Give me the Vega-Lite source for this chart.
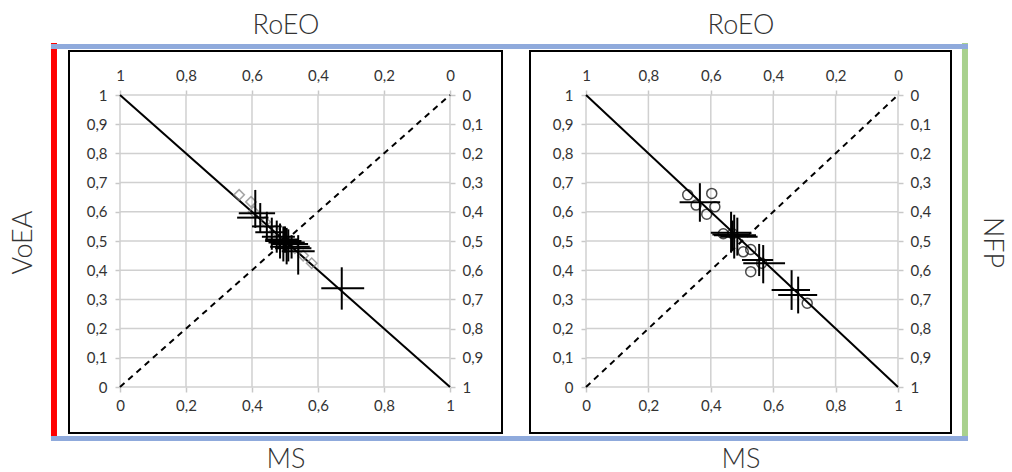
{
  "$schema": "https://vega.github.io/schema/vega-lite/v6.json",
  "autosize": {"type": "none"},
  "padding": {"left": 69, "top": 51, "right": 943, "bottom": 421},
  "background": "white",
  "spacing": 28,
  "bounds": "flush",
  "config": {
    "view": {"stroke": "#000000", "strokeWidth": 2},
    "axis": {
      "domain": false, "grid": false,
      "tickColor": "#c8c8c8", "tickSize": 5, "tickWidth": 1.5,
      "labelFont": "Lato", "labelFontSize": 15, "labelColor": "#333333",
      "titleFont": "Lato", "titleFontSize": 27, "titleFontWeight": 300, "titleColor": "#333333"
    }
  },
  "datasets": {
    "one": [{"k": 1}],
    "gridX": [{"v": 0}, {"v": 0.2}, {"v": 0.4}, {"v": 0.6}, {"v": 0.8}, {"v": 1}],
    "gridY": [{"v": 0}, {"v": 0.1}, {"v": 0.2}, {"v": 0.3}, {"v": 0.4}, {"v": 0.5}, {"v": 0.6}, {"v": 0.7}, {"v": 0.8}, {"v": 0.9}, {"v": 1}],
    "leftCross": [
      {"x": 0.41, "y": 0.595, "xlo": 0.36, "xhi": 0.47, "ylo": 0.545, "yhi": 0.675},
      {"x": 0.425, "y": 0.58, "xlo": 0.355, "xhi": 0.45, "ylo": 0.53, "yhi": 0.63},
      {"x": 0.445, "y": 0.55, "xlo": 0.40, "xhi": 0.49, "ylo": 0.50, "yhi": 0.60},
      {"x": 0.46, "y": 0.53, "xlo": 0.41, "xhi": 0.50, "ylo": 0.47, "yhi": 0.58},
      {"x": 0.475, "y": 0.515, "xlo": 0.43, "xhi": 0.53, "ylo": 0.46, "yhi": 0.57},
      {"x": 0.485, "y": 0.505, "xlo": 0.44, "xhi": 0.54, "ylo": 0.44, "yhi": 0.56},
      {"x": 0.495, "y": 0.495, "xlo": 0.45, "xhi": 0.56, "ylo": 0.43, "yhi": 0.55},
      {"x": 0.505, "y": 0.49, "xlo": 0.46, "xhi": 0.57, "ylo": 0.42, "yhi": 0.545},
      {"x": 0.51, "y": 0.48, "xlo": 0.455, "xhi": 0.575, "ylo": 0.43, "yhi": 0.54},
      {"x": 0.52, "y": 0.475, "xlo": 0.47, "xhi": 0.58, "ylo": 0.44, "yhi": 0.52},
      {"x": 0.54, "y": 0.465, "xlo": 0.49, "xhi": 0.59, "ylo": 0.385, "yhi": 0.52},
      {"x": 0.50, "y": 0.50, "xlo": 0.44, "xhi": 0.55, "ylo": 0.46, "yhi": 0.55},
      {"x": 0.672, "y": 0.338, "xlo": 0.61, "xhi": 0.74, "ylo": 0.265, "yhi": 0.41}
    ],
    "leftDiamond": [
      {"x": 0.361, "y": 0.658}, {"x": 0.397, "y": 0.634}, {"x": 0.405, "y": 0.60},
      {"x": 0.44, "y": 0.565}, {"x": 0.47, "y": 0.535}, {"x": 0.50, "y": 0.505},
      {"x": 0.53, "y": 0.475}, {"x": 0.555, "y": 0.45}, {"x": 0.581, "y": 0.424}
    ],
    "rightCross": [
      {"x": 0.365, "y": 0.633, "xlo": 0.30, "xhi": 0.43, "ylo": 0.566, "yhi": 0.698},
      {"x": 0.465, "y": 0.528, "xlo": 0.40, "xhi": 0.53, "ylo": 0.46, "yhi": 0.60},
      {"x": 0.475, "y": 0.52, "xlo": 0.41, "xhi": 0.545, "ylo": 0.44, "yhi": 0.59},
      {"x": 0.485, "y": 0.515, "xlo": 0.43, "xhi": 0.55, "ylo": 0.45, "yhi": 0.58},
      {"x": 0.47, "y": 0.522, "xlo": 0.405, "xhi": 0.52, "ylo": 0.47, "yhi": 0.57},
      {"x": 0.555, "y": 0.435, "xlo": 0.50, "xhi": 0.60, "ylo": 0.38, "yhi": 0.49},
      {"x": 0.568, "y": 0.424, "xlo": 0.504, "xhi": 0.638, "ylo": 0.355, "yhi": 0.486},
      {"x": 0.659, "y": 0.332, "xlo": 0.595, "xhi": 0.718, "ylo": 0.264, "yhi": 0.40},
      {"x": 0.68, "y": 0.315, "xlo": 0.616, "xhi": 0.741, "ylo": 0.252, "yhi": 0.378}
    ],
    "rightCircle": [
      {"x": 0.326, "y": 0.658}, {"x": 0.403, "y": 0.663}, {"x": 0.353, "y": 0.623},
      {"x": 0.413, "y": 0.617}, {"x": 0.387, "y": 0.592}, {"x": 0.44, "y": 0.525},
      {"x": 0.47, "y": 0.525}, {"x": 0.504, "y": 0.463}, {"x": 0.528, "y": 0.471},
      {"x": 0.528, "y": 0.395}, {"x": 0.563, "y": 0.424}, {"x": 0.709, "y": 0.287}
    ]
  },
  "hconcat": [
    {
      "width": 433,
      "height": 382,
      "resolve": {"axis": {"x": "independent", "y": "independent"}},
      "layer": [
        {
          "data": {"name": "one"},
          "mark": {"type": "rule", "color": "#ff0000", "strokeWidth": 6},
          "encoding": {
            "x": {"datum": -0.2, "type": "quantitative", "scale": {"domain": [-0.1545, 1.1576], "nice": false, "zero": false}, "axis": null},
            "y": {"datum": 1.1781, "type": "quantitative", "scale": {"domain": [-0.1575, 1.1507], "nice": false, "zero": false}, "axis": null},
            "y2": {"datum": -0.1678}
          }
        },
        {
          "data": {"name": "one"},
          "mark": {"type": "rule", "color": "#8faadc", "strokeWidth": 5},
          "encoding": {
            "x": {"datum": -0.2091, "type": "quantitative", "scale": {"domain": [-0.1545, 1.1576], "nice": false, "zero": false}, "axis": null},
            "x2": {"datum": 1.2},
            "y": {"datum": 1.1661, "type": "quantitative", "scale": {"domain": [-0.1575, 1.1507], "nice": false, "zero": false}, "axis": null}
          }
        },
        {
          "data": {"name": "one"},
          "mark": {"type": "rule", "color": "#8faadc", "strokeWidth": 5},
          "encoding": {
            "x": {"datum": -0.2091, "type": "quantitative", "scale": {"domain": [-0.1545, 1.1576], "nice": false, "zero": false}, "axis": null},
            "x2": {"datum": 1.2},
            "y": {"datum": -0.1764, "type": "quantitative", "scale": {"domain": [-0.1575, 1.1507], "nice": false, "zero": false}, "axis": null}
          }
        },
        {
          "data": {"name": "gridX"},
          "mark": {"type": "rule", "color": "#d0d0d0", "strokeWidth": 1.5},
          "encoding": {
            "x": {"field": "v", "type": "quantitative", "scale": {"domain": [-0.1545, 1.1576], "nice": false, "zero": false},
              "axis": {"orient": "bottom", "offset": -46, "values": [0, 0.2, 0.4, 0.6, 0.8, 1], "labelPadding": 6, "labelExpr": "replace(format(datum.value, '.1~f'), '.', ',')", "title": "MS", "titleBaseline": "alphabetic", "titleY": 80}},
            "y": {"datum": 0, "type": "quantitative", "scale": {"domain": [-0.1575, 1.1507], "nice": false, "zero": false},
              "axis": {"orient": "right", "offset": -52, "values": [0, 0.1, 0.2, 0.3, 0.4, 0.5, 0.6, 0.7, 0.8, 0.9, 1], "labelPadding": 7, "labelExpr": "replace(format(1 - datum.value, '.1~f'), '.', ',')", "title": null}},
            "y2": {"datum": 1}
          }
        },
        {
          "data": {"name": "gridY"},
          "mark": {"type": "rule", "color": "#d0d0d0", "strokeWidth": 1.5},
          "encoding": {
            "y": {"field": "v", "type": "quantitative", "scale": {"domain": [-0.1575, 1.1507], "nice": false, "zero": false},
              "axis": {"orient": "left", "offset": -51, "values": [0, 0.1, 0.2, 0.3, 0.4, 0.5, 0.6, 0.7, 0.8, 0.9, 1], "labelPadding": 8, "labelExpr": "replace(format(datum.value, '.1~f'), '.', ',')", "title": "VoEA", "titleBaseline": "alphabetic", "titleX": -89}},
            "x": {"datum": 0, "type": "quantitative", "scale": {"domain": [-0.1545, 1.1576], "nice": false, "zero": false},
              "axis": {"orient": "top", "offset": -44, "values": [0, 0.2, 0.4, 0.6, 0.8, 1], "labelPadding": 7, "labelExpr": "replace(format(1 - datum.value, '.1~f'), '.', ',')", "title": "RoEO", "titleBaseline": "alphabetic", "titleY": -62}},
            "x2": {"datum": 1}
          }
        },
        {
          "data": {"name": "one"},
          "mark": {"type": "rule", "color": "#000000", "strokeWidth": 2},
          "encoding": {
            "x": {"datum": 0, "type": "quantitative", "scale": {"domain": [-0.1545, 1.1576], "nice": false, "zero": false}, "axis": null},
            "y": {"datum": 1, "type": "quantitative", "scale": {"domain": [-0.1575, 1.1507], "nice": false, "zero": false}, "axis": null},
            "x2": {"datum": 1},
            "y2": {"datum": 0}
          }
        },
        {
          "data": {"name": "one"},
          "mark": {"type": "rule", "color": "#000000", "strokeWidth": 2, "strokeDash": [6, 5]},
          "encoding": {
            "x": {"datum": 0, "type": "quantitative", "scale": {"domain": [-0.1545, 1.1576], "nice": false, "zero": false}, "axis": null},
            "y": {"datum": 0, "type": "quantitative", "scale": {"domain": [-0.1575, 1.1507], "nice": false, "zero": false}, "axis": null},
            "x2": {"datum": 1},
            "y2": {"datum": 1}
          }
        },
        {
          "data": {"name": "leftDiamond"},
          "mark": {"type": "point", "shape": "diamond", "filled": false, "stroke": "#808080", "strokeWidth": 1.5, "size": 110},
          "encoding": {
            "x": {"field": "x", "type": "quantitative", "scale": {"domain": [-0.1545, 1.1576], "nice": false, "zero": false}, "axis": null},
            "y": {"field": "y", "type": "quantitative", "scale": {"domain": [-0.1575, 1.1507], "nice": false, "zero": false}, "axis": null}
          }
        },
        {
          "data": {"name": "leftCross"},
          "mark": {"type": "rule", "color": "#000000", "strokeWidth": 2},
          "encoding": {
            "x": {"field": "xlo", "type": "quantitative", "scale": {"domain": [-0.1545, 1.1576], "nice": false, "zero": false}, "axis": null},
            "x2": {"field": "xhi"},
            "y": {"field": "y", "type": "quantitative", "scale": {"domain": [-0.1575, 1.1507], "nice": false, "zero": false}, "axis": null}
          }
        },
        {
          "data": {"name": "leftCross"},
          "mark": {"type": "rule", "color": "#000000", "strokeWidth": 2},
          "encoding": {
            "x": {"field": "x", "type": "quantitative", "scale": {"domain": [-0.1545, 1.1576], "nice": false, "zero": false}, "axis": null},
            "y": {"field": "ylo", "type": "quantitative", "scale": {"domain": [-0.1575, 1.1507], "nice": false, "zero": false}, "axis": null},
            "y2": {"field": "yhi"}
          }
        }
      ]
    },
    {
      "width": 421,
      "height": 382,
      "resolve": {"axis": {"x": "independent", "y": "independent"}},
      "layer": [
        {
          "data": {"name": "one"},
          "mark": {"type": "rule", "color": "#a9d18e", "strokeWidth": 6},
          "encoding": {
            "x": {"datum": 1.2147, "type": "quantitative", "scale": {"domain": [-0.1795, 1.1699], "nice": false, "zero": false}, "axis": null},
            "y": {"datum": 1.1781, "type": "quantitative", "scale": {"domain": [-0.1575, 1.1507], "nice": false, "zero": false}, "axis": null},
            "y2": {"datum": -0.1678}
          }
        },
        {
          "data": {"name": "one"},
          "mark": {"type": "rule", "color": "#8faadc", "strokeWidth": 5},
          "encoding": {
            "x": {"datum": -0.2244, "type": "quantitative", "scale": {"domain": [-0.1795, 1.1699], "nice": false, "zero": false}, "axis": null},
            "x2": {"datum": 1.2244},
            "y": {"datum": 1.1661, "type": "quantitative", "scale": {"domain": [-0.1575, 1.1507], "nice": false, "zero": false}, "axis": null}
          }
        },
        {
          "data": {"name": "one"},
          "mark": {"type": "rule", "color": "#8faadc", "strokeWidth": 5},
          "encoding": {
            "x": {"datum": -0.2244, "type": "quantitative", "scale": {"domain": [-0.1795, 1.1699], "nice": false, "zero": false}, "axis": null},
            "x2": {"datum": 1.2244},
            "y": {"datum": -0.1764, "type": "quantitative", "scale": {"domain": [-0.1575, 1.1507], "nice": false, "zero": false}, "axis": null}
          }
        },
        {
          "data": {"name": "gridX"},
          "mark": {"type": "rule", "color": "#d0d0d0", "strokeWidth": 1.5},
          "encoding": {
            "x": {"field": "v", "type": "quantitative", "scale": {"domain": [-0.1795, 1.1699], "nice": false, "zero": false},
              "axis": {"orient": "bottom", "offset": -46, "values": [0, 0.2, 0.4, 0.6, 0.8, 1], "labelPadding": 6, "labelExpr": "replace(format(datum.value, '.1~f'), '.', ',')", "title": "MS", "titleBaseline": "alphabetic", "titleY": 80}},
            "y": {"datum": 0, "type": "quantitative", "scale": {"domain": [-0.1575, 1.1507], "nice": false, "zero": false},
              "axis": {"orient": "right", "offset": -53, "values": [0, 0.1, 0.2, 0.3, 0.4, 0.5, 0.6, 0.7, 0.8, 0.9, 1], "labelPadding": 7, "labelExpr": "replace(format(1 - datum.value, '.1~f'), '.', ',')", "title": "NFP", "titleAngle": 90, "titleBaseline": "alphabetic", "titleX": 85}},
            "y2": {"datum": 1}
          }
        },
        {
          "data": {"name": "gridY"},
          "mark": {"type": "rule", "color": "#d0d0d0", "strokeWidth": 1.5},
          "encoding": {
            "y": {"field": "v", "type": "quantitative", "scale": {"domain": [-0.1575, 1.1507], "nice": false, "zero": false},
              "axis": {"orient": "left", "offset": -56, "values": [0, 0.1, 0.2, 0.3, 0.4, 0.5, 0.6, 0.7, 0.8, 0.9, 1], "labelPadding": 8, "labelExpr": "replace(format(datum.value, '.1~f'), '.', ',')", "title": null}},
            "x": {"datum": 0, "type": "quantitative", "scale": {"domain": [-0.1795, 1.1699], "nice": false, "zero": false},
              "axis": {"orient": "top", "offset": -44, "values": [0, 0.2, 0.4, 0.6, 0.8, 1], "labelPadding": 7, "labelExpr": "replace(format(1 - datum.value, '.1~f'), '.', ',')", "title": "RoEO", "titleBaseline": "alphabetic", "titleY": -62}},
            "x2": {"datum": 1}
          }
        },
        {
          "data": {"name": "one"},
          "mark": {"type": "rule", "color": "#000000", "strokeWidth": 2},
          "encoding": {
            "x": {"datum": 0, "type": "quantitative", "scale": {"domain": [-0.1795, 1.1699], "nice": false, "zero": false}, "axis": null},
            "y": {"datum": 1, "type": "quantitative", "scale": {"domain": [-0.1575, 1.1507], "nice": false, "zero": false}, "axis": null},
            "x2": {"datum": 1},
            "y2": {"datum": 0}
          }
        },
        {
          "data": {"name": "one"},
          "mark": {"type": "rule", "color": "#000000", "strokeWidth": 2, "strokeDash": [6, 5]},
          "encoding": {
            "x": {"datum": 0, "type": "quantitative", "scale": {"domain": [-0.1795, 1.1699], "nice": false, "zero": false}, "axis": null},
            "y": {"datum": 0, "type": "quantitative", "scale": {"domain": [-0.1575, 1.1507], "nice": false, "zero": false}, "axis": null},
            "x2": {"datum": 1},
            "y2": {"datum": 1}
          }
        },
        {
          "data": {"name": "rightCircle"},
          "mark": {"type": "point", "shape": "circle", "filled": false, "stroke": "#000000", "strokeWidth": 1.5, "size": 100},
          "encoding": {
            "x": {"field": "x", "type": "quantitative", "scale": {"domain": [-0.1795, 1.1699], "nice": false, "zero": false}, "axis": null},
            "y": {"field": "y", "type": "quantitative", "scale": {"domain": [-0.1575, 1.1507], "nice": false, "zero": false}, "axis": null}
          }
        },
        {
          "data": {"name": "rightCross"},
          "mark": {"type": "rule", "color": "#000000", "strokeWidth": 2},
          "encoding": {
            "x": {"field": "xlo", "type": "quantitative", "scale": {"domain": [-0.1795, 1.1699], "nice": false, "zero": false}, "axis": null},
            "x2": {"field": "xhi"},
            "y": {"field": "y", "type": "quantitative", "scale": {"domain": [-0.1575, 1.1507], "nice": false, "zero": false}, "axis": null}
          }
        },
        {
          "data": {"name": "rightCross"},
          "mark": {"type": "rule", "color": "#000000", "strokeWidth": 2},
          "encoding": {
            "x": {"field": "x", "type": "quantitative", "scale": {"domain": [-0.1795, 1.1699], "nice": false, "zero": false}, "axis": null},
            "y": {"field": "ylo", "type": "quantitative", "scale": {"domain": [-0.1575, 1.1507], "nice": false, "zero": false}, "axis": null},
            "y2": {"field": "yhi"}
          }
        }
      ]
    }
  ]
}
